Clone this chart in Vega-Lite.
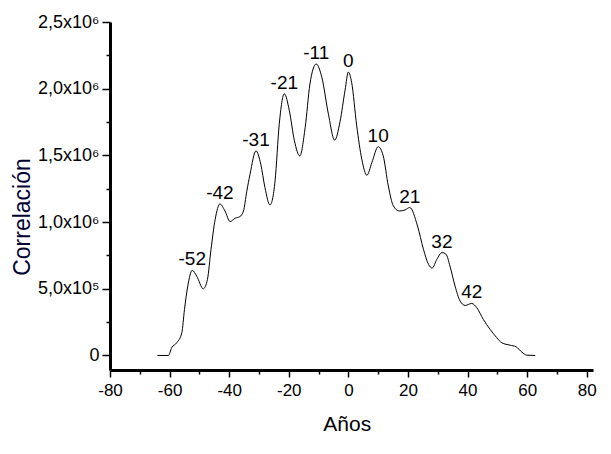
{
  "$schema": "https://vega.github.io/schema/vega-lite/v6.json",
  "width": 483,
  "height": 348,
  "autosize": "none",
  "padding": {"left": 110, "top": 22, "right": 18, "bottom": 84},
  "background": "white",
  "config": {"view": {"stroke": null}, "font": "Liberation Sans"},
  "datasets": {
    "curve": [
      {"year": -64.1, "corr": 0}, {"year": -60.4, "corr": 0}, {"year": -59.3, "corr": 58000},
      {"year": -57.6, "corr": 95000}, {"year": -55.9, "corr": 170000}, {"year": -55.0, "corr": 345000},
      {"year": -53.9, "corr": 520000}, {"year": -52.4, "corr": 638000}, {"year": -50.9, "corr": 595000},
      {"year": -48.7, "corr": 500000}, {"year": -47.3, "corr": 570000}, {"year": -46.1, "corr": 796000},
      {"year": -44.7, "corr": 1021000}, {"year": -43.1, "corr": 1136000}, {"year": -41.4, "corr": 1083000},
      {"year": -39.7, "corr": 1004000}, {"year": -38.0, "corr": 1029000}, {"year": -36.4, "corr": 1041000},
      {"year": -35.2, "corr": 1083000}, {"year": -34.1, "corr": 1230000}, {"year": -33.0, "corr": 1359000},
      {"year": -31.0, "corr": 1534000}, {"year": -29.4, "corr": 1434000}, {"year": -28.0, "corr": 1259000},
      {"year": -26.3, "corr": 1128000}, {"year": -24.6, "corr": 1309000}, {"year": -23.2, "corr": 1734000},
      {"year": -21.5, "corr": 1962000}, {"year": -19.8, "corr": 1834000}, {"year": -18.1, "corr": 1609000},
      {"year": -16.3, "corr": 1496000}, {"year": -14.5, "corr": 1709000}, {"year": -12.9, "corr": 2035000},
      {"year": -10.8, "corr": 2185000}, {"year": -8.9, "corr": 2085000}, {"year": -6.7, "corr": 1809000},
      {"year": -4.6, "corr": 1614000}, {"year": -2.8, "corr": 1753000}, {"year": -1.1, "corr": 1990000},
      {"year": 0.0, "corr": 2125000}, {"year": 1.1, "corr": 2047000}, {"year": 2.8, "corr": 1722000},
      {"year": 4.5, "corr": 1472000}, {"year": 6.2, "corr": 1351000}, {"year": 7.9, "corr": 1447000},
      {"year": 10.0, "corr": 1565000}, {"year": 11.7, "corr": 1496000}, {"year": 13.4, "corr": 1271000},
      {"year": 15.1, "corr": 1121000}, {"year": 17.1, "corr": 1083000}, {"year": 19.0, "corr": 1091000},
      {"year": 20.6, "corr": 1109000}, {"year": 23.2, "corr": 971000}, {"year": 25.2, "corr": 796000},
      {"year": 26.9, "corr": 683000}, {"year": 28.1, "corr": 655000}, {"year": 29.7, "corr": 721000},
      {"year": 31.4, "corr": 771000}, {"year": 32.8, "corr": 758000}, {"year": 34.1, "corr": 670000},
      {"year": 35.8, "corr": 520000}, {"year": 37.5, "corr": 408000}, {"year": 39.2, "corr": 375000},
      {"year": 41.4, "corr": 390000}, {"year": 43.1, "corr": 358000}, {"year": 45.3, "corr": 270000},
      {"year": 47.6, "corr": 195000}, {"year": 49.8, "corr": 133000}, {"year": 51.5, "corr": 95000},
      {"year": 54.3, "corr": 77000}, {"year": 56.3, "corr": 65000}, {"year": 58.2, "corr": 25000},
      {"year": 59.9, "corr": 2000}, {"year": 62.7, "corr": 0}
    ],
    "peaks": [
      {"year": -52.4, "corr": 638000, "label": "-52"},
      {"year": -43.1, "corr": 1136000, "label": "-42"},
      {"year": -31.0, "corr": 1534000, "label": "-31"},
      {"year": -21.5, "corr": 1962000, "label": "-21"},
      {"year": -10.8, "corr": 2185000, "label": "-11"},
      {"year": 0.0, "corr": 2125000, "label": "0"},
      {"year": 10.0, "corr": 1565000, "label": "10"},
      {"year": 20.6, "corr": 1109000, "label": "21"},
      {"year": 31.4, "corr": 771000, "label": "32"},
      {"year": 41.4, "corr": 390000, "label": "42"}
    ]
  },
  "encoding": {
    "x": {
      "field": "year", "type": "quantitative",
      "scale": {"domain": [-80, 82.1], "nice": false, "zero": false},
      "axis": {
        "title": "Años",
        "values": [-80, -70, -60, -50, -40, -30, -20, -10, 0, 10, 20, 30, 40, 50, 60, 70, 80],
        "labelExpr": "datum.value % 20 == 0 ? '' + datum.value : ''",
        "grid": false,
        "domainColor": "black", "domainWidth": 3,
        "tickColor": "black", "tickWidth": 1.5,
        "tickSize": {"condition": {"test": "datum.value % 20 == 0", "value": 7}, "value": 4},
        "labelFontSize": 17, "labelColor": "black", "labelPadding": 5,
        "labelFlush": false, "labelOverlap": false,
        "titleFontSize": 21, "titleFontWeight": "normal", "titleColor": "black",
        "titleX": 236.7, "titleY": 60, "titleBaseline": "alphabetic"
      }
    },
    "y": {
      "field": "corr", "type": "quantitative",
      "scale": {"domain": [-109000, 2500000], "nice": false, "zero": false},
      "axis": {
        "title": "Correlación",
        "values": [0, 250000, 500000, 750000, 1000000, 1250000, 1500000, 1750000, 2000000, 2250000, 2500000],
        "labelExpr": "datum.value == 0 ? '0' : (datum.value % 500000 != 0 ? '' : (datum.value < 1000000 ? replace(format(datum.value / 100000, '.1f'), '.', ',') + 'x10⁵' : replace(format(datum.value / 1000000, '.1f'), '.', ',') + 'x10⁶'))",
        "grid": false,
        "domainColor": "black", "domainWidth": 3,
        "tickColor": "black", "tickWidth": 1.5,
        "tickSize": {"condition": {"test": "datum.value % 500000 == 0", "value": 8}, "value": 4},
        "labelFontSize": 18, "labelColor": "black", "labelPadding": 3,
        "labelFlush": false, "labelOverlap": false,
        "titleFontSize": 23, "titleFontWeight": "normal", "titleColor": "#000033",
        "titleX": -81, "titleY": 194.5, "titleBaseline": "alphabetic", "titleAngle": 270
      }
    }
  },
  "layer": [
    {
      "data": {"name": "curve"},
      "mark": {"type": "line", "interpolate": "monotone", "color": "black", "strokeWidth": 1}
    },
    {
      "data": {"name": "peaks"},
      "mark": {"type": "text", "dy": -5, "baseline": "alphabetic", "align": "center", "fontSize": 19, "color": "black"},
      "encoding": {"text": {"field": "label"}}
    }
  ]
}
